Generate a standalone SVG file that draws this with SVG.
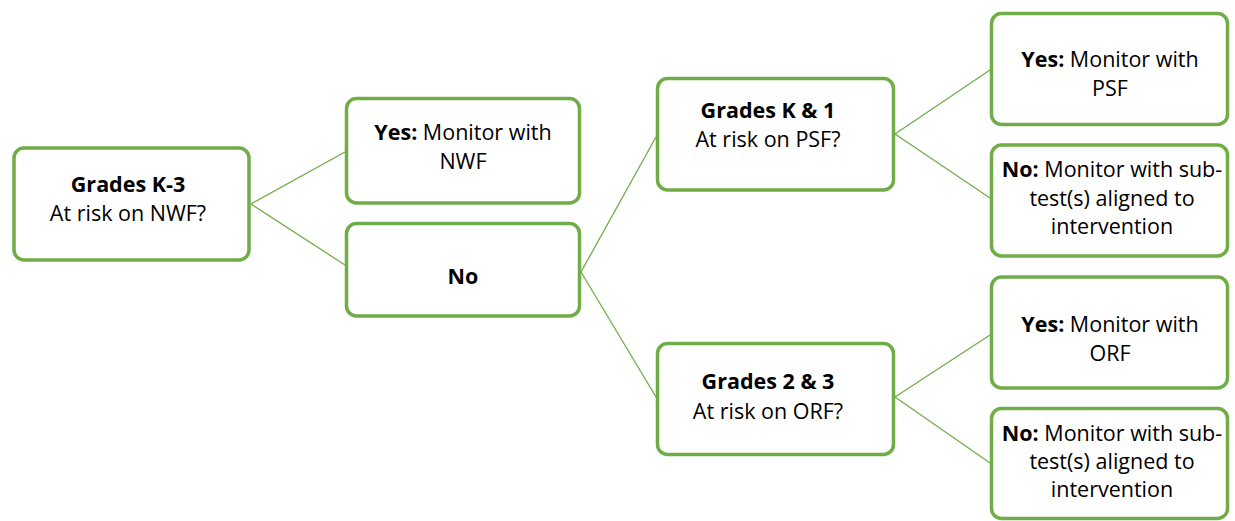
<svg xmlns="http://www.w3.org/2000/svg" width="1235" height="521" viewBox="0 0 1235 521">
<style>
.box{fill:#ffffff;stroke:#70AD47;stroke-width:3.5}
.t{font-family:"Open Sans","Liberation Sans",sans-serif;font-size:21.5px;fill:#000;text-anchor:middle}
.b{font-weight:700}
.c{stroke:#70AD47;stroke-width:1.3;fill:none}
</style>
<rect width="1235" height="521" fill="#ffffff"/>
<g id="connectors">
<line class="c" x1="251" y1="204" x2="345" y2="152"/>
<line class="c" x1="251" y1="204" x2="345" y2="265"/>
<line class="c" x1="581" y1="272" x2="656" y2="137"/>
<line class="c" x1="581" y1="272" x2="656" y2="397"/>
<line class="c" x1="895" y1="134" x2="990" y2="70"/>
<line class="c" x1="895" y1="134" x2="990" y2="198"/>
<line class="c" x1="895" y1="397" x2="990" y2="335"/>
<line class="c" x1="895" y1="397" x2="990" y2="463"/>
</g>
<g id="k3">
<rect class="box" x="14" y="148" width="235" height="112" rx="10"/>
<text class="t b" x="128" y="192">Grades K-3</text>
<text class="t" x="128" y="221">At risk on NWF?</text>
</g>
<g id="yes-nwf">
<rect class="box" x="346.5" y="98.5" width="233" height="104.5" rx="10"/>
<text class="t" x="463" y="140"><tspan class="b">Yes:</tspan> Monitor with</text>
<text class="t" x="463" y="169">NWF</text>
</g>
<g id="no">
<rect class="box" x="346.5" y="223.5" width="233" height="92.5" rx="10"/>
<text class="t b" x="463" y="284">No</text>
</g>
<g id="k1">
<rect class="box" x="657.5" y="78.5" width="236" height="111.5" rx="10"/>
<text class="t b" x="768" y="118">Grades K &amp; 1</text>
<text class="t" x="768" y="147">At risk on PSF?</text>
</g>
<g id="g23">
<rect class="box" x="657.5" y="343.5" width="236" height="111" rx="10"/>
<text class="t b" x="768" y="389">Grades 2 &amp; 3</text>
<text class="t" x="768" y="419">At risk on ORF?</text>
</g>
<g id="yes-psf">
<rect class="box" x="991.5" y="13.5" width="236" height="111" rx="10"/>
<text class="t" x="1110" y="67"><tspan class="b">Yes:</tspan> Monitor with</text>
<text class="t" x="1110" y="96">PSF</text>
</g>
<g id="no-psf">
<rect class="box" x="991.5" y="145" width="236" height="111" rx="10"/>
<text class="t" x="1112" y="177"><tspan class="b">No:</tspan> Monitor with sub-</text>
<text class="t" x="1112" y="206">test(s) aligned to</text>
<text class="t" x="1112" y="234">intervention</text>
</g>
<g id="yes-orf">
<rect class="box" x="991.5" y="277" width="236" height="111" rx="10"/>
<text class="t" x="1110" y="332"><tspan class="b">Yes:</tspan> Monitor with</text>
<text class="t" x="1110" y="361">ORF</text>
</g>
<g id="no-orf">
<rect class="box" x="991.5" y="408.5" width="236" height="110" rx="10"/>
<text class="t" x="1112" y="441"><tspan class="b">No:</tspan> Monitor with sub-</text>
<text class="t" x="1112" y="469">test(s) aligned to</text>
<text class="t" x="1112" y="497">intervention</text>
</g>
</svg>
